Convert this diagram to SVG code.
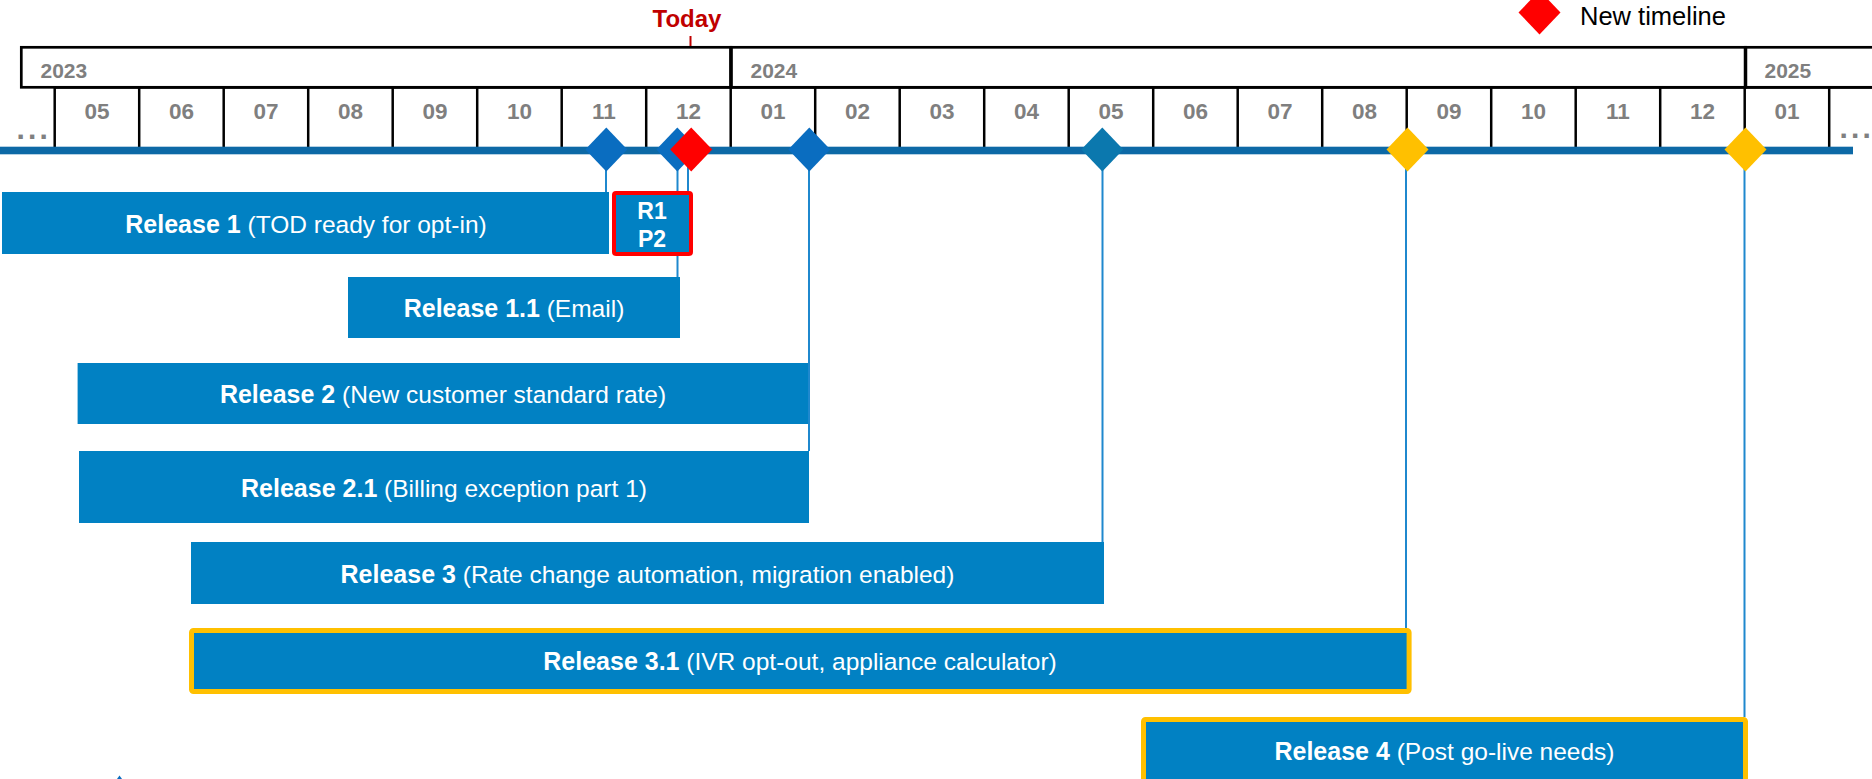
<svg xmlns="http://www.w3.org/2000/svg" width="1872" height="779" viewBox="0 0 1872 779">
  <defs>
    <style>
      .yr { fill: #ffffff; stroke: #000000; stroke-width: 2.7; }
      .cell { stroke: #000000; stroke-width: 2.5; }
      .hdr { font-family: "Liberation Sans", Arial, sans-serif; font-weight: bold; font-size: 21px; fill: #7f7f7f; }
      .mon { text-anchor: middle; font-size: 22.5px; }
      .bar { fill: #0d69a6; }
      .ms { fill: #0a6dc0; }
      .ms-alt { fill: #0b78ae; }
      .ms-new { fill: #ffc000; }
      .ms-red { fill: #ff0000; }
      .conn { stroke: #1f88ce; stroke-width: 2; fill: none; }
      .rel { fill: #0181c3; }
      .rel-hl { fill: #0181c3; stroke: #ffc000; stroke-width: 5; }
      .rel-red { fill: #0181c3; stroke: #ff0000; stroke-width: 4; }
      .lbl { font-family: "Liberation Sans", Arial, sans-serif; fill: #ffffff; text-anchor: middle; font-size: 24.5px; }
      .lbl .b { font-weight: bold; font-size: 25px; }
      .small { font-family: "Liberation Sans", Arial, sans-serif; fill: #ffffff; text-anchor: middle; font-weight: bold; font-size: 23px; }
      .more { fill: #808080; font-size: 30px; letter-spacing: 3.2px; }
    </style>
    <polygon id="dia" points="0,-22 21,0 0,22 -21,0"/>
  </defs>

  <rect width="1872" height="779" fill="#ffffff"/>

  <!-- Legend -->
  <g id="legend">
    <use href="#dia" x="1539.5" y="12.5" class="ms-red"/>
    <text x="1580" y="25" font-family="'Liberation Sans', Arial, sans-serif" font-size="25.5" fill="#000000">New timeline</text>
  </g>

  <!-- Today marker -->
  <g id="today">
    <text x="687" y="27" text-anchor="middle" font-family="'Liberation Sans', Arial, sans-serif" font-weight="bold" font-size="24" fill="#c00000">Today</text>
    <line x1="690.5" y1="36" x2="690.5" y2="88" stroke="#c00000" stroke-width="2"/>
  </g>

  <!-- Year header -->
  <g id="years">
    <rect class="yr" x="21.3" y="47.3" width="709.7" height="40"/>
    <rect class="yr" x="731" y="47.3" width="1014.5" height="40"/>
    <rect class="yr" x="1745.5" y="47.3" width="140" height="40"/>
    <line x1="731" y1="46" x2="731" y2="88" stroke="#000" stroke-width="3.5"/>
    <line x1="1745.5" y1="46" x2="1745.5" y2="88" stroke="#000" stroke-width="3.5"/>
    <text class="hdr" x="40.5" y="77.5">2023</text>
    <text class="hdr" x="750.5" y="77.5">2024</text>
    <text class="hdr" x="1764.5" y="77.5">2025</text>
  </g>

  <!-- Month cells -->
  <g id="months">
    <line class="cell" x1="54.7" y1="87.5" x2="1872" y2="87.5"/>
    <line class="cell" x1="54.7" y1="87" x2="54.7" y2="147"/>
    <line class="cell" x1="139.2" y1="87" x2="139.2" y2="147"/>
    <line class="cell" x1="223.7" y1="87" x2="223.7" y2="147"/>
    <line class="cell" x1="308.2" y1="87" x2="308.2" y2="147"/>
    <line class="cell" x1="392.7" y1="87" x2="392.7" y2="147"/>
    <line class="cell" x1="477.2" y1="87" x2="477.2" y2="147"/>
    <line class="cell" x1="561.7" y1="87" x2="561.7" y2="147"/>
    <line class="cell" x1="646.2" y1="87" x2="646.2" y2="147"/>
    <line class="cell" x1="730.7" y1="87" x2="730.7" y2="147"/>
    <line class="cell" x1="815.2" y1="87" x2="815.2" y2="147"/>
    <line class="cell" x1="899.7" y1="87" x2="899.7" y2="147"/>
    <line class="cell" x1="984.2" y1="87" x2="984.2" y2="147"/>
    <line class="cell" x1="1068.7" y1="87" x2="1068.7" y2="147"/>
    <line class="cell" x1="1153.2" y1="87" x2="1153.2" y2="147"/>
    <line class="cell" x1="1237.7" y1="87" x2="1237.7" y2="147"/>
    <line class="cell" x1="1322.2" y1="87" x2="1322.2" y2="147"/>
    <line class="cell" x1="1406.7" y1="87" x2="1406.7" y2="147"/>
    <line class="cell" x1="1491.2" y1="87" x2="1491.2" y2="147"/>
    <line class="cell" x1="1575.7" y1="87" x2="1575.7" y2="147"/>
    <line class="cell" x1="1660.2" y1="87" x2="1660.2" y2="147"/>
    <line class="cell" x1="1744.7" y1="87" x2="1744.7" y2="147"/>
    <line class="cell" x1="1829.2" y1="87" x2="1829.2" y2="147"/>
    <g class="hdr mon">
      <text x="97" y="119">05</text>
      <text x="181.5" y="119">06</text>
      <text x="266" y="119">07</text>
      <text x="350.5" y="119">08</text>
      <text x="435" y="119">09</text>
      <text x="519.5" y="119">10</text>
      <text x="604" y="119">11</text>
      <text x="688.5" y="119">12</text>
      <text x="773" y="119">01</text>
      <text x="857.5" y="119">02</text>
      <text x="942" y="119">03</text>
      <text x="1026.5" y="119">04</text>
      <text x="1111" y="119">05</text>
      <text x="1195.5" y="119">06</text>
      <text x="1280" y="119">07</text>
      <text x="1364.5" y="119">08</text>
      <text x="1449" y="119">09</text>
      <text x="1533.5" y="119">10</text>
      <text x="1618" y="119">11</text>
      <text x="1702.5" y="119">12</text>
      <text x="1787" y="119">01</text>
    </g>
    <text class="hdr more" x="16.5" y="138.5">...</text>
    <text class="hdr more" x="1839.5" y="137.5">...</text>
  </g>

  <!-- Connectors from milestones down to releases -->
  <g id="connectors">
    <line class="conn" x1="606" y1="165" x2="606" y2="192"/>
    <line class="conn" x1="677.5" y1="165" x2="677.5" y2="277"/>
    <line class="conn" x1="688" y1="165" x2="688" y2="191"/>
    <line class="conn" x1="809" y1="165" x2="809" y2="451"/>
    <line class="conn" x1="1102.5" y1="165" x2="1102.5" y2="542"/>
    <line class="conn" x1="1406" y1="165" x2="1406" y2="628"/>
    <line class="conn" x1="1744.5" y1="165" x2="1744.5" y2="717"/>
  </g>

  <!-- Time axis -->
  <rect id="axis" class="bar" x="0" y="146.7" width="1853" height="7.6"/>

  <!-- Milestones -->
  <g id="ms-r1"><use href="#dia" x="606.3" y="149.5" class="ms"/></g>
  <g id="ms-r11"><use href="#dia" x="677.3" y="149.5" class="ms"/></g>
  <g id="ms-r1p2"><use href="#dia" x="691.2" y="149.5" class="ms-red"/></g>
  <g id="ms-r2"><use href="#dia" x="809.3" y="149.5" class="ms"/></g>
  <g id="ms-r3"><use href="#dia" x="1102.3" y="149.5" class="ms-alt"/></g>
  <g id="ms-r31"><use href="#dia" x="1407.5" y="149.5" class="ms-new"/></g>
  <g id="ms-r4"><use href="#dia" x="1745.5" y="149.5" class="ms-new"/></g>

  <!-- Releases -->
  <g id="release-1">
    <rect class="rel" x="2" y="192" width="607" height="62"/>
    <text class="lbl" x="306" y="233"><tspan class="b">Release 1</tspan> (TOD ready for opt-in)</text>
  </g>

  <g id="release-1-p2">
    <rect class="rel-red" x="614" y="193" width="77" height="61" rx="2"/>
    <text class="small" x="652" y="219">R1</text>
    <text class="small" x="652" y="247">P2</text>
  </g>

  <g id="release-1-1">
    <rect class="rel" x="348" y="277" width="332" height="61"/>
    <text class="lbl" x="514" y="317"><tspan class="b">Release 1.1</tspan> (Email)</text>
  </g>

  <g id="release-2">
    <rect class="rel" x="77.6" y="363" width="730.4" height="61"/>
    <text class="lbl" x="443" y="403"><tspan class="b">Release 2</tspan> (New customer standard rate)</text>
  </g>

  <g id="release-2-1">
    <rect class="rel" x="79" y="451" width="730" height="72"/>
    <text class="lbl" x="444" y="496.5"><tspan class="b">Release 2.1</tspan> (Billing exception part 1)</text>
  </g>

  <g id="release-3">
    <rect class="rel" x="191" y="542" width="913" height="62"/>
    <text class="lbl" x="647.5" y="582.5"><tspan class="b">Release 3</tspan> (Rate change automation, migration enabled)</text>
  </g>

  <g id="release-3-1">
    <rect class="rel-hl" x="191.5" y="630.5" width="1217.6" height="61" rx="2"/>
    <text class="lbl" x="800" y="670"><tspan class="b">Release 3.1</tspan> (IVR opt-out, appliance calculator)</text>
  </g>

  <g id="release-4">
    <rect class="rel-hl" x="1143.5" y="719.5" width="602" height="63" rx="2"/>
    <text class="lbl" x="1444.5" y="760"><tspan class="b">Release 4</tspan> (Post go-live needs)</text>
  </g>

  <!-- partial mark at lower edge -->
  <polygon points="119.5,775.5 117,779 122,779" fill="#0a6dc0"/>
</svg>
